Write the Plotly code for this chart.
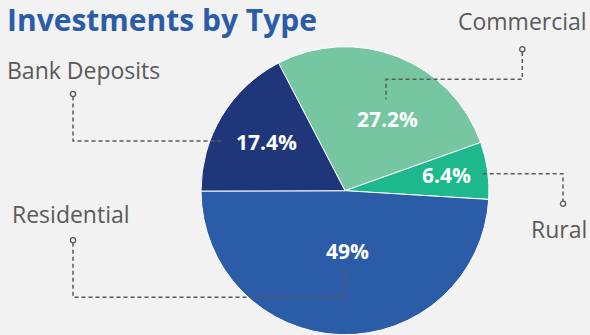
import math
import plotly.graph_objects as go

# ---- data ----
categories = ["Commercial", "Rural", "Residential", "Bank Deposits"]
values = [27.2, 6.4, 49.0, 17.4]
pct_labels = ["27.2%", "6.4%", "49%", "17.4%"]
title_text = "Investments by Type"

# ---- style ----
colors = ["#76c6a2", "#1db88c", "#2b5ca8", "#1f367b"]
BG = "#f2f2f2"
LINE = "#595959"
FONT = "Open Sans"
W, H = 590, 335
ROT = -27.5
CX, CY, R = 345, 190.7, 144
# label tweak per slice: (angle offset deg, radius fraction)
lab_tweak = [(9.2, 0.575), (-0.5, 0.714), (-3.6, 0.419), (0.6, 0.642)]

def px(x):
    return x / W

def py(y):
    return 1 - y / H

fig = go.Figure(go.Pie(
    labels=categories, values=values, sort=False, direction="clockwise",
    rotation=ROT, marker=dict(colors=colors, line=dict(color="white", width=1)),
    textinfo="none", hoverinfo="label+percent", showlegend=False,
    domain=dict(x=[px(CX - R), px(CX + R)], y=[py(CY + R), py(CY - R)]),
))

annotations = []
# percentage labels, positioned from cumulative slice angles
total = sum(values)
start = ROT
for v, lab, (da, rf) in zip(values, pct_labels, lab_tweak):
    span = v / total * 360
    mid = start + span / 2 + da
    start += span
    x = CX + rf * R * math.sin(math.radians(mid))
    y = CY - rf * R * math.cos(math.radians(mid))
    annotations.append(dict(x=px(x), y=py(y), xref="paper", yref="paper",
                            text=lab, showarrow=False, xanchor="center", yanchor="middle",
                            font=dict(family=FONT, size=21, color="white", weight="bold")))

annotations.append(dict(x=px(5), y=py(-3), xref="paper", yref="paper", text=title_text,
                        showarrow=False, xanchor="left", yanchor="top",
                        font=dict(family=FONT, size=30, color="#2b5ca8", weight="bold")))

callouts = [
    ("Commercial", 589, 21, "right"),
    ("Bank Deposits", 5, 70, "left"),
    ("Residential", 10, 214, "left"),
    ("Rural", 589, 229, "right"),
]
for txt, x, y, anc in callouts:
    annotations.append(dict(x=px(x), y=py(y), xref="paper", yref="paper", text=txt,
                            showarrow=False, xanchor=anc, yanchor="middle",
                            font=dict(family=FONT, size=23, color="#5a5a5a")))

paths = [
    [(522.3, 52), (522.3, 79.3), (386, 79.3), (386, 99.3)],
    [(73, 96.5), (73, 141), (222, 141)],
    [(73, 242.8), (73, 297.3), (345, 297.3), (345, 269)],
    [(482.7, 173.7), (563, 173.7), (563, 201.2)],
]
circles = [(522.3, 49.3), (73, 94), (73, 240.3), (563, 203.7)]

shapes = []
for p in paths:
    d = "M " + " L ".join(f"{px(x)},{py(y)}" for x, y in p)
    shapes.append(dict(type="path", path=d, xref="paper", yref="paper",
                       line=dict(color=LINE, width=1.5, dash="4px,3px")))
for x, y in circles:
    r = 2.6
    shapes.append(dict(type="circle", xref="paper", yref="paper",
                       x0=px(x - r), x1=px(x + r), y0=py(y + r), y1=py(y - r),
                       line=dict(color=LINE, width=1.3), fillcolor=BG))

fig.update_layout(
    width=W, height=H, margin=dict(l=0, r=0, t=0, b=0),
    paper_bgcolor=BG, plot_bgcolor=BG,
    annotations=annotations, shapes=shapes,
)
fig.write_html("out.html")
